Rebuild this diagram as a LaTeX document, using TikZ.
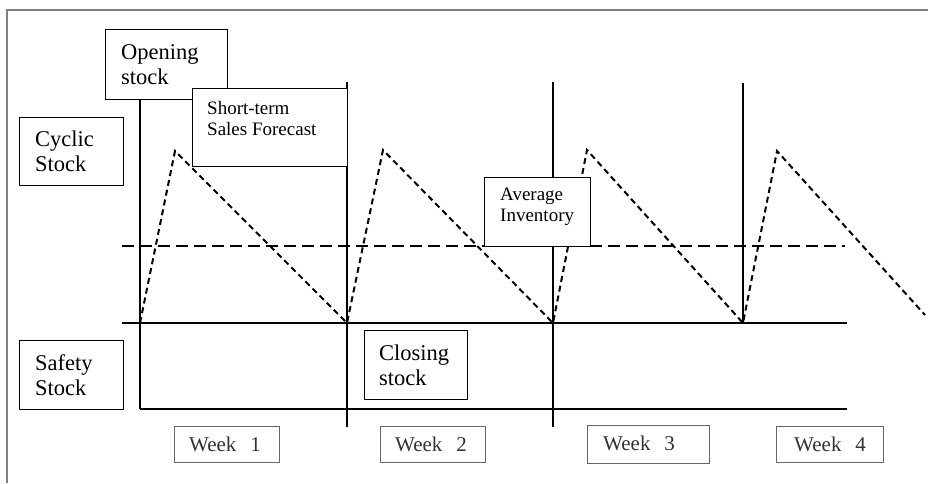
\documentclass[tikz,border=0pt]{standalone}
\usepackage{fontspec}
\setmainfont{Liberation Serif}
\begin{document}
\begin{tikzpicture}[x=1pt,y=-1pt,
  box/.style={draw=black,line width=1.3pt,fill=white,inner sep=0pt,anchor=north west},
  weekbox/.style={draw=black!60,line width=1.1pt,fill=white,inner sep=0pt,anchor=north west},
  biglbl/.style={anchor=west,align=left,inner sep=0pt,font=\fontsize{22.5}{25.5}\selectfont},
  smalllbl/.style={anchor=west,align=left,inner sep=0pt,font=\fontsize{19}{21}\selectfont},
  weeklbl/.style={anchor=west,inner sep=0pt,text=black!80,font=\fontsize{21}{24}\selectfont},
  axis/.style={line width=1.3pt,black},
  saw/.style={line width=2pt,dash pattern=on 6pt off 4pt},
  avgline/.style={line width=2.4pt,dash pattern=on 12pt off 6pt}]
\useasboundingbox (0,0) rectangle (928,483);

% outer frame (top and left edges)
\draw[black!50,line width=2pt] (7,483) -- (7,10) -- (928,10);

% grid points
\coordinate (v1t) at (140,99);   \coordinate (v1b) at (140,409);
\coordinate (v2t) at (347,82);   \coordinate (v2b) at (347,427);
\coordinate (v3t) at (553,82);   \coordinate (v3b) at (553,427);
\coordinate (v4t) at (743,83);   \coordinate (v4b) at (743,323);
\coordinate (basel) at (122,323); \coordinate (baser) at (847,323);
\coordinate (botl) at (140,409);  \coordinate (botr) at (847,409);
\coordinate (avgl) at (122,246);  \coordinate (avgr) at (845,246);

% sawtooth points
\coordinate (s0) at (140,323); \coordinate (p1) at (175,151);
\coordinate (s1) at (347,323); \coordinate (p2) at (383,150);
\coordinate (s2) at (553,323); \coordinate (p3) at (587,150);
\coordinate (s3) at (743,323); \coordinate (p4) at (777,151);
\coordinate (s4) at (925,315);

% axes and week dividers
\draw[axis] (v1t) -- (v1b);
\draw[axis] (v2t) -- (v2b);
\draw[axis] (v3t) -- (v3b);
\draw[axis] (v4t) -- (v4b);
\draw[axis] (basel) -- (baser);
\draw[axis] (botl) -- (botr);

% average inventory level
\draw[avgline] (avgl) -- (avgr);

% stock level over time
\draw[saw,line join=miter] (s0) -- (p1) -- (s1) -- (p2) -- (s2) -- (p3) -- (s3) -- (p4) -- (s4);

% labelled boxes
\node[box,minimum width=122pt,minimum height=70pt] (open) at (105,29) {};
\node[biglbl] (opent) at (121,64.5) {Opening\\stock};

\node[box,minimum width=155pt,minimum height=78pt] (stf) at (192,88) {};
\node[smalllbl] (stft) at (207,118.5) {Short-term\\Sales Forecast};

\node[box,minimum width=104pt,minimum height=68pt] (cyc) at (19,117) {};
\node[biglbl] (cyct) at (35,151.5) {Cyclic\\Stock};

\node[box,minimum width=106pt,minimum height=69pt] (avg) at (484,177) {};
\node[smalllbl] (avgt) at (500,206.5) {Average\\Inventory};

\node[box,minimum width=103pt,minimum height=69pt] (close) at (364,330) {};
\node[biglbl] (closet) at (379,365.5) {Closing\\stock};

\node[box,minimum width=104pt,minimum height=69pt] (safe) at (19,340) {};
\node[biglbl] (safet) at (35,375) {Safety\\Stock};

% week labels
\node[weekbox,minimum width=105pt,minimum height=36pt] (w1) at (174,426) {};
\node[weeklbl] (w1t) at (189,444) {Week\hspace{14pt}1};
\node[weekbox,minimum width=105pt,minimum height=36pt] (w2) at (380,426) {};
\node[weeklbl] (w2t) at (395,444) {Week\hspace{14pt}2};
\node[weekbox,minimum width=122pt,minimum height=38pt] (w3) at (587,425) {};
\node[weeklbl] (w3t) at (603,443) {Week\hspace{14pt}3};
\node[weekbox,minimum width=107pt,minimum height=36pt] (w4) at (776,426) {};
\node[weeklbl] (w4t) at (794,444) {Week\hspace{14pt}4};
\end{tikzpicture}
\end{document}
